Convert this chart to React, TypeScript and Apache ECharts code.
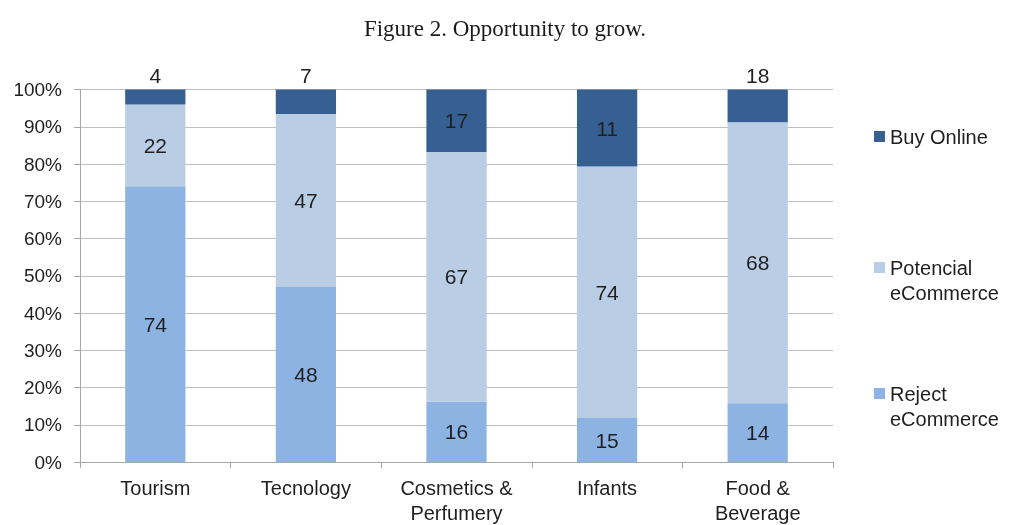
import React, { useEffect, useRef } from "react";
import * as echarts from "echarts";

const categories = ["Tourism", "Tecnology", "Cosmetics &\nPerfumery", "Infants", "Food &\nBeverage"];
const seriesNames = ["Reject eCommerce", "Potencial eCommerce", "Buy Online"];
// Segment heights as drawn (share of 100%)
const rejectShare = [74, 47, 16.2, 11.8, 15.8];
const potentialShare = [22, 46.4, 67, 67.5, 75.4];
const buyShare = [4, 6.6, 16.8, 20.7, 8.8];
// Numbers printed on the segments
const rejectLabels = [74, 48, 16, 15, 14];
const potentialLabels = [22, 47, 67, 74, 68];
const buyLabels = [4, 7, 17, 11, 18];
const yTicks = [0, 10, 20, 30, 40, 50, 60, 70, 80, 90, 100];

const COLORS = { reject: "#8DB3E2", potential: "#B9CDE5", buy: "#376092" };
const FONT = "Liberation Sans";

export default function App() {
  const ref = useRef<HTMLDivElement>(null);
  useEffect(() => {
    if (!ref.current) return;
    const chart = echarts.init(ref.current, null, { renderer: "svg" });
    const labelBase = { show: true, fontFamily: FONT, fontSize: 21, color: "#1f1f1f" };
    const legendText = { fontFamily: FONT, fontSize: 20, color: "#1f1f1f", lineHeight: 25 };
    const legendBase = {
      left: 874,
      orient: "vertical",
      itemWidth: 11,
      itemHeight: 11,
      icon: "rect",
      padding: 0,
      textStyle: legendText,
    };
    chart.setOption({
      animation: false,
      title: {
        text: "Figure 2. Opportunity to grow.",
        left: "center",
        top: 17,
        padding: 0,
        textStyle: { fontFamily: "Liberation Serif", fontSize: 23, fontWeight: "normal", color: "#1a1a1a" },
      },
      legend: [
        { ...legendBase, data: [seriesNames[2]], top: 124 },
        { ...legendBase, data: [seriesNames[1]], top: 230, formatter: () => "\nPotencial\neCommerce" },
        { ...legendBase, data: [seriesNames[0]], top: 356, formatter: () => "\nReject\neCommerce" },
      ],
      grid: { left: 80, right: 177, top: 89.5, bottom: 60, containLabel: false },
      xAxis: {
        type: "category",
        data: categories,
        axisLine: { show: true, lineStyle: { color: "#a6a6a6", width: 1 } },
        axisTick: { show: true, length: 6, lineStyle: { color: "#a6a6a6" } },
        axisLabel: { fontFamily: FONT, fontSize: 20, color: "#1f1f1f", margin: 13, lineHeight: 25, interval: 0 },
      },
      yAxis: {
        type: "value",
        min: yTicks[0],
        max: yTicks[yTicks.length - 1],
        interval: 10,
        axisLine: { show: true, lineStyle: { color: "#a6a6a6", width: 1 } },
        axisTick: { show: true, length: 6, lineStyle: { color: "#a6a6a6" } },
        splitLine: { show: true, lineStyle: { color: "#bfbfbf", width: 1 } },
        axisLabel: { fontFamily: FONT, fontSize: 19, color: "#1f1f1f", margin: 18, formatter: "{value}%" },
      },
      series: [
        {
          name: seriesNames[0],
          type: "bar",
          stack: "total",
          barCategoryGap: "60%",
          itemStyle: { color: COLORS.reject },
          label: { ...labelBase, position: "inside", formatter: (p: any) => String(rejectLabels[p.dataIndex]) },
          data: rejectShare,
        },
        {
          name: seriesNames[1],
          type: "bar",
          stack: "total",
          barCategoryGap: "60%",
          itemStyle: { color: COLORS.potential },
          label: { ...labelBase, position: "inside", formatter: (p: any) => String(potentialLabels[p.dataIndex]) },
          data: potentialShare,
        },
        {
          name: seriesNames[2],
          type: "bar",
          stack: "total",
          barCategoryGap: "60%",
          itemStyle: { color: COLORS.buy },
          label: { ...labelBase, position: "inside", formatter: (p: any) => String(buyLabels[p.dataIndex]) },
          data: buyShare.map((v) => ({ value: v, label: { position: v < 10 ? "top" : "inside", distance: 4 } })),
        },
      ],
    });
    return () => chart.dispose();
  }, []);
  return <div ref={ref} style={{ position: "fixed", left: 0, top: 0, width: 1010, height: 525 }} />;
}
